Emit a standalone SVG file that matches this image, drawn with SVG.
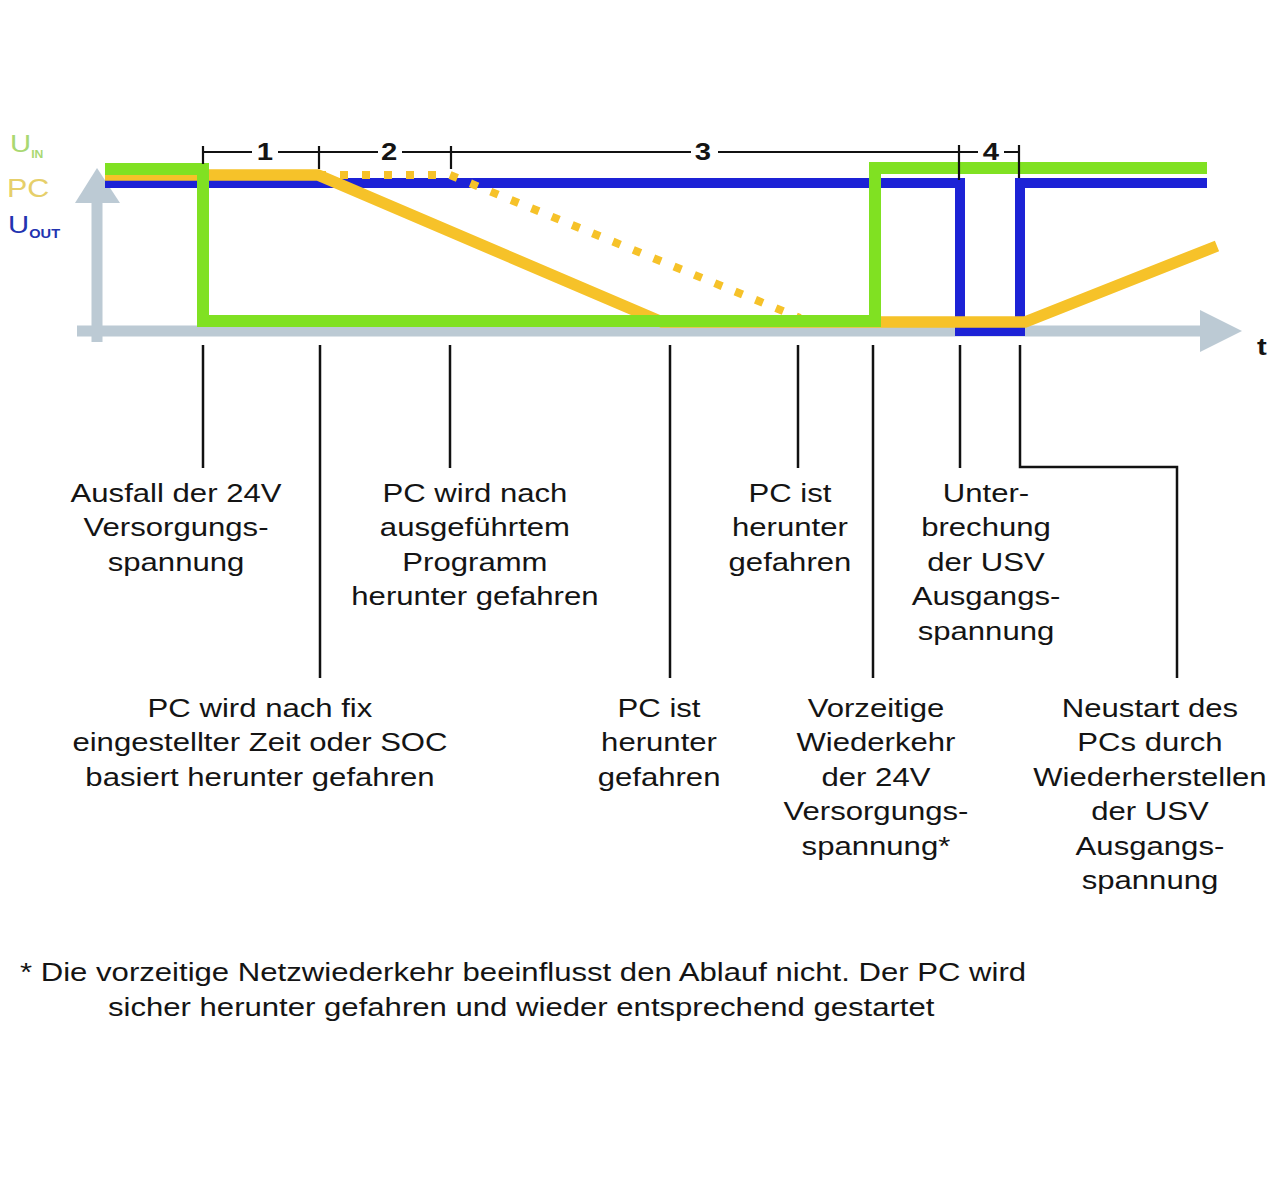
<svg xmlns="http://www.w3.org/2000/svg" width="1280" height="1190" viewBox="0 0 1280 1190">
<style>
.t{font-family:"Liberation Sans",Arial,Helvetica,sans-serif;font-size:25.5px;fill:#141414;text-anchor:middle}
.fn{font-family:"Liberation Sans",Arial,Helvetica,sans-serif;font-size:25.5px;fill:#141414}
.num{font-family:"Liberation Sans",Arial,Helvetica,sans-serif;font-size:24px;font-weight:bold;fill:#141414;text-anchor:middle}
.lead{fill:none;stroke:#111;stroke-width:2.5}
.brk{fill:none;stroke:#111;stroke-width:2.2}
.ax{fill:none;stroke:#bccad4;stroke-width:11}
</style>
<rect width="1280" height="1190" fill="#ffffff"/>
<g id="axes">
  <line class="ax" x1="97" y1="342" x2="97" y2="198"/>
  <polygon points="75,203 97,168 120,203" fill="#bccad4"/>
  <line class="ax" x1="77" y1="331" x2="1205" y2="331"/>
  <polygon points="1200,310 1242,331 1200,352" fill="#bccad4"/>
</g>
<g id="signals">
  <path id="uout" d="M105,183 H960 V331 H1020 V183 H1207" fill="none" stroke="#1c22d6" stroke-width="10"/>
  <path id="pc-dotted" d="M318,175 H450 L800,318" fill="none" stroke="#f6c229" stroke-width="8" stroke-dasharray="8 14"/>
  <path id="pc" d="M105,175 H318 L662,322 H1025 L1217,246" fill="none" stroke="#f6c229" stroke-width="11.5"/>
  <path id="uin" d="M105,169 H203 V321 H875 V168 H1207" fill="none" stroke="#80e122" stroke-width="12"/>
</g>
<g id="brackets">
  <path class="brk" d="M203,146 V164 M203,152 H252 M278,152 H378 M319,146 V169 M402,152 H691 M451,146 V169 M718,152 H959 M959,145 V180 M959,152 H978 M1004,152 H1019 M1019,145 V178"/>
</g>
<g id="connectors">
  <path class="lead" d="M203,345 V468"/>
  <path class="lead" d="M320,345 V678"/>
  <path class="lead" d="M450,345 V468"/>
  <path class="lead" d="M670,345 V678"/>
  <path class="lead" d="M798,345 V468"/>
  <path class="lead" d="M873,345 V678"/>
  <path class="lead" d="M960,345 V468"/>
  <path class="lead" d="M1020,345 V467 H1177 V678"/>
</g>
<g transform="scale(1.22 1)">
  <g id="legend" font-family="'Liberation Sans',Arial,sans-serif">
    <text x="8.2" y="152" font-size="24" fill="#a9d872">U<tspan font-size="10" font-weight="bold" dy="6">IN</tspan></text>
    <text x="5.7" y="197" font-size="25" fill="#e6cf6a">PC</text>
    <text x="6.6" y="233" font-size="24" fill="#2233b0">U<tspan font-size="12" font-weight="bold" dy="5">OUT</tspan></text>
  </g>
  <g id="phase-numbers">
    <text class="num" x="217.2" y="160">1</text>
    <text class="num" x="318.9" y="160">2</text>
    <text class="num" x="576.2" y="160">3</text>
    <text class="num" x="812.3" y="160">4</text>
  </g>
  <text x="1034.4" y="355" font-family="'Liberation Sans',Arial,sans-serif" font-size="24" font-weight="bold" fill="#141414" text-anchor="middle">t</text>
  <g id="n-ausfall">
    <text class="t" x="144.3" y="502">Ausfall der 24V</text>
    <text class="t" x="144.3" y="536.5">Versorgungs-</text>
    <text class="t" x="144.3" y="571">spannung</text>
  </g>
  <g id="n-fix">
    <text class="t" x="213.1" y="717">PC wird nach fix</text>
    <text class="t" x="213.1" y="751.5">eingestellter Zeit oder SOC</text>
    <text class="t" x="213.1" y="786">basiert herunter gefahren</text>
  </g>
  <g id="n-programm">
    <text class="t" x="389.3" y="502">PC wird nach</text>
    <text class="t" x="389.3" y="536.5">ausgeführtem</text>
    <text class="t" x="389.3" y="571">Programm</text>
    <text class="t" x="389.3" y="605.5">herunter gefahren</text>
  </g>
  <g id="n-ist1">
    <text class="t" x="540.2" y="717">PC ist</text>
    <text class="t" x="540.2" y="751.5">herunter</text>
    <text class="t" x="540.2" y="786">gefahren</text>
  </g>
  <g id="n-ist2">
    <text class="t" x="647.5" y="502">PC ist</text>
    <text class="t" x="647.5" y="536.5">herunter</text>
    <text class="t" x="647.5" y="571">gefahren</text>
  </g>
  <g id="n-vorzeitig">
    <text class="t" x="718" y="717">Vorzeitige</text>
    <text class="t" x="718" y="751.5">Wiederkehr</text>
    <text class="t" x="718" y="786">der 24V</text>
    <text class="t" x="718" y="820.5">Versorgungs-</text>
    <text class="t" x="718" y="855">spannung*</text>
  </g>
  <g id="n-unterbrechung">
    <text class="t" x="808.2" y="502">Unter-</text>
    <text class="t" x="808.2" y="536.5">brechung</text>
    <text class="t" x="808.2" y="571">der USV</text>
    <text class="t" x="808.2" y="605.5">Ausgangs-</text>
    <text class="t" x="808.2" y="640">spannung</text>
  </g>
  <g id="n-neustart">
    <text class="t" x="942.6" y="717">Neustart des</text>
    <text class="t" x="942.6" y="751.5">PCs durch</text>
    <text class="t" x="942.6" y="786">Wiederherstellen</text>
    <text class="t" x="942.6" y="820.5">der USV</text>
    <text class="t" x="942.6" y="855">Ausgangs-</text>
    <text class="t" x="942.6" y="889.5">spannung</text>
  </g>
  <g id="footnote">
    <text class="fn" x="16.4" y="981">* Die vorzeitige Netzwiederkehr beeinflusst den Ablauf nicht. Der PC wird</text>
    <text class="fn" x="88.5" y="1016">sicher herunter gefahren und wieder entsprechend gestartet</text>
  </g>
</g>
</svg>
